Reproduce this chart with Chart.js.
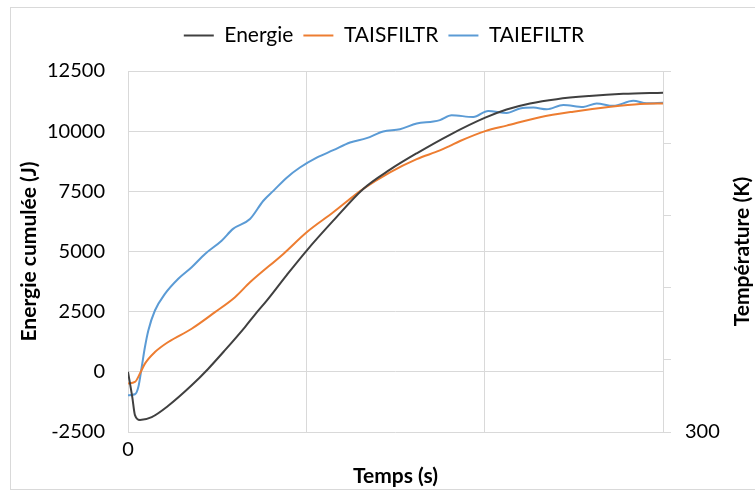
<!DOCTYPE html>
<html>
<head>
<meta charset="utf-8">
<script src="https://cdn.jsdelivr.net/npm/chart.js@4"></script>
<style>
    html, body { margin: 0; padding: 0; background: #fff; }
    #frame { position: absolute; left: 10px; top: 7px; width: 760px; height: 481px; border: 1px solid #d9d9d9; }
    #wrap { position: absolute; left: 0; top: 0; width: 755px; height: 491px; }
</style>
</head>
<body>
<div id="frame"></div>
<div id="wrap"><canvas id="chart"></canvas></div>
<script>
// Energie cumulée (J) - temps (s)
const energieT = [0, 2.4, 3.9, 6.7, 13.3, 22.4, 35.7, 44.9, 54.4, 65.6, 71.2, 77.8, 89, 100.2, 115.1, 131.9, 146.9, 161.9, 180.5, 200.3, 212.3, 225.4, 240.4, 258.7, 277.7, 300];
const energieJ = [0, -1050, -1800, -2000, -1880, -1420, -560, 120, 900, 1860, 2380, 2960, 4020, 5040, 6280, 7600, 8400, 9080, 9850, 10560, 10900, 11150, 11330, 11460, 11550, 11600];

// TAISFILTR (K)
const taisT = [0, 3.9, 6.7, 9.5, 15.1, 22.6, 35.7, 48.8, 60, 68.4, 87.1, 100.2, 115.1, 131.9, 146.9, 161.9, 174.9, 180.5, 186.2, 200.3, 212.3, 231, 249.7, 268.4, 287.1, 300];
const taisK = [300.673, 300.693, 300.810, 300.947, 301.107, 301.247, 301.430, 301.660, 301.867, 302.073, 302.467, 302.767, 303.043, 303.367, 303.597, 303.780, 303.900, 303.963, 304.030, 304.167, 304.243, 304.360, 304.437, 304.497, 304.543, 304.550];

// TAIEFILTR (K)
const taieT = [0, 3.9, 5.8, 7.7, 9.5, 11.4, 15.1, 20.7, 28.2, 35.7, 43.2, 52.5, 58.9, 68.4, 75.9, 81.5, 89, 96.4, 105.8, 115.1, 124.5, 133.8, 143.1, 152.5, 161.9, 171.2, 174.9, 181.5, 193.6, 202, 212.3, 219.8, 227.3, 234.8, 244.1, 255.3, 262.8, 272.1, 283.3, 290.8, 300];
const taieK = [300.510, 300.523, 300.623, 300.900, 301.177, 301.407, 301.683, 301.913, 302.123, 302.283, 302.467, 302.650, 302.813, 302.950, 303.203, 303.340, 303.523, 303.663, 303.800, 303.903, 304.010, 304.070, 304.163, 304.193, 304.273, 304.300, 304.320, 304.387, 304.363, 304.447, 304.417, 304.480, 304.493, 304.470, 304.530, 304.503, 304.550, 304.517, 304.587, 304.553, 304.560];

const energieTicks = [-2500, 0, 2500, 5000, 7500, 10000, 12500];

const toPoints = (xs, ys) => xs.map((x, i) => ({ x: x, y: ys[i] }));

const FONT = 'Lato, "Open Sans", sans-serif';
const GRID = '#d9d9d9';

// push the plot area down a little below the legend
const legendGap = {
    id: 'legendGap',
    beforeInit(chart) {
        const fit = chart.legend.fit;
        chart.legend.fit = function () {
            fit.bind(chart.legend)();
            this.height += 15;
        };
    }
};

// right axis title reads bottom to top, like the left one
const rightTitle = {
    id: 'rightTitle',
    afterDraw(chart) {
        const c = chart.ctx;
        const area = chart.chartArea;
        c.save();
        c.translate(742, (area.top + area.bottom) / 2);
        c.rotate(-Math.PI / 2);
        c.font = 'bold 21px ' + FONT;
        c.fillStyle = '#000';
        c.textAlign = 'center';
        c.textBaseline = 'middle';
        c.fillText('Température (K)', 0, 0);
        c.restore();
    }
};

const ctx = document.getElementById('chart').getContext('2d');
new Chart(ctx, {
    type: 'line',
    data: {
        datasets: [
            { label: 'Energie', data: toPoints(energieT, energieJ), borderColor: '#404040', backgroundColor: '#404040', yAxisID: 'y' },
            { label: 'TAISFILTR', data: toPoints(taisT, taisK), borderColor: '#ed7d31', backgroundColor: '#ed7d31', yAxisID: 'y1' },
            { label: 'TAIEFILTR', data: toPoints(taieT, taieK), borderColor: '#5b9bd5', backgroundColor: '#5b9bd5', yAxisID: 'y1' }
        ]
    },
    plugins: [legendGap, rightTitle],
    options: {
        responsive: true,
        maintainAspectRatio: false,
        animation: false,
        devicePixelRatio: 1,
        layout: { padding: { top: 15, left: 13, right: 0, bottom: 0 } },
        elements: {
            point: { radius: 0 },
            line: { borderWidth: 2, cubicInterpolationMode: 'monotone' }
        },
        plugins: {
            tooltip: { enabled: false },
            legend: {
                position: 'top',
                labels: {
                    color: '#000',
                    font: { family: FONT, size: 21 },
                    boxWidth: 30,
                    boxHeight: 2,
                    padding: 10,
                    generateLabels: (chart) => Chart.defaults.plugins.legend.labels.generateLabels(chart)
                        .map(l => Object.assign(l, { lineWidth: 0 }))
                }
            }
        },
        scales: {
            x: {
                type: 'linear',
                min: 0,
                max: 300,
                ticks: {
                    stepSize: 100,
                    color: '#000',
                    font: { family: FONT, size: 20 },
                    padding: 6,
                    maxRotation: 0,
                    callback: v => v === 0 ? '0' : ''
                },
                grid: { color: GRID, drawTicks: false },
                border: { display: false },
                title: {
                    display: true,
                    text: 'Temps (s)',
                    color: '#000',
                    font: { family: FONT, size: 21, weight: 'bold' },
                    padding: { top: 0, bottom: 2 }
                },
                afterFit: s => { s.height = 59; }
            },
            y: {
                position: 'left',
                min: -2500,
                max: 12500,
                afterBuildTicks: s => { s.ticks = energieTicks.map(v => ({ value: v })); },
                ticks: {
                    color: '#000',
                    font: { family: FONT, size: 20 },
                    padding: 23,
                    callback: v => String(v)
                },
                grid: { color: GRID, drawTicks: false },
                border: { display: false },
                title: {
                    display: true,
                    text: 'Energie cumulée (J)',
                    color: '#000',
                    font: { family: FONT, size: 21, weight: 'bold' },
                    padding: { top: 4, bottom: 0 }
                },
                afterFit: s => { s.width = 115; }
            },
            y1: {
                position: 'right',
                min: 300,
                max: 305,
                ticks: {
                    stepSize: 1,
                    color: '#000',
                    font: { family: FONT, size: 20 },
                    padding: 14,
                    callback: v => v === 300 ? '300' : ''
                },
                grid: { drawOnChartArea: false, color: GRID, tickLength: 8 },
                border: { display: true, color: GRID },
                title: { display: false },
                afterFit: s => { s.width = 92; }
            }
        }
    }
});
</script>
</body>
</html>
